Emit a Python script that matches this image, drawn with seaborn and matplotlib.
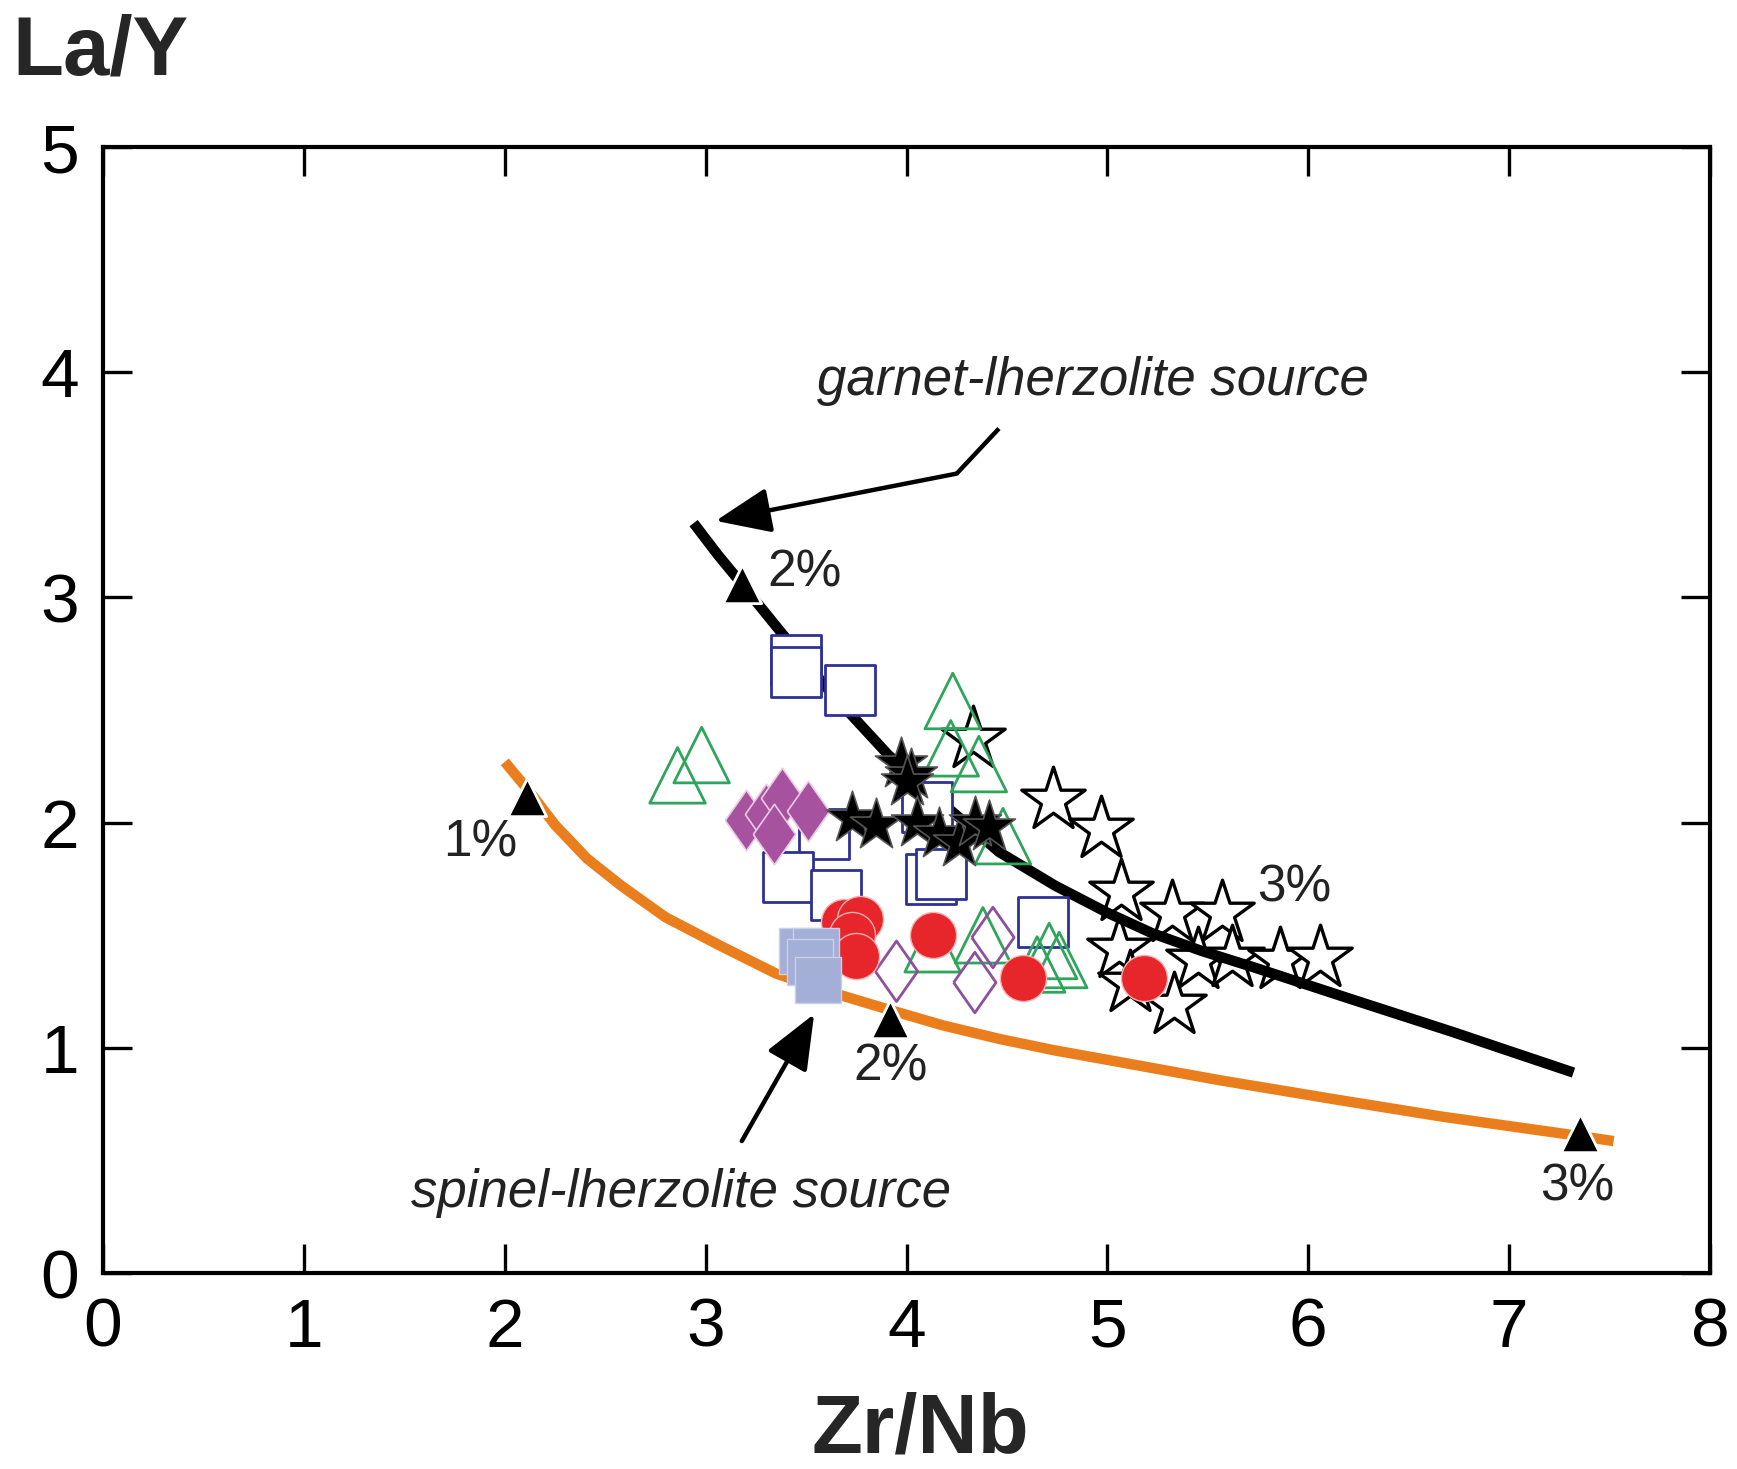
import matplotlib
matplotlib.use('Agg')
import matplotlib.pyplot as plt
import seaborn as sns

sns.set_theme(style='ticks')
plt.rcParams['font.family'] = ['Liberation Sans', 'DejaVu Sans']

# melting curves (Zr/Nb vs La/Y)
garnet_x = [2.94, 3.06, 3.18, 3.38, 3.62, 3.91, 4.20, 4.46, 4.74, 5.00, 5.22, 5.47,
            5.72, 6.20, 6.72, 7.32]
garnet_y = [3.33, 3.19, 3.06, 2.84, 2.58, 2.30, 2.07, 1.87, 1.72, 1.60, 1.51, 1.43,
            1.36, 1.22, 1.07, 0.89]
spinel_x = [2.00, 2.13, 2.25, 2.41, 2.58, 2.80, 3.08, 3.35, 3.63, 3.91, 4.18, 4.46,
            4.73, 5.01, 5.56, 6.12, 6.67, 7.22, 7.52]
spinel_y = [2.27, 2.13, 1.99, 1.84, 1.72, 1.58, 1.45, 1.33, 1.245, 1.17, 1.10, 1.04,
            0.99, 0.945, 0.856, 0.773, 0.694, 0.625, 0.586]

# degree-of-melting marks
melt_x = [3.18, 2.11, 3.92, 7.35]
melt_y = [3.06, 2.115, 1.13, 0.62]
melt_labels = ['2%', '1%', '2%', '3%', '3%']
melt_label_x = [3.49, 1.88, 3.92, 7.34, 5.93]
melt_label_y = [3.11, 1.91, 0.915, 0.38, 1.71]

# sample groups
blue_sq_x = [3.45, 3.45, 3.72, 4.10, 3.59, 3.41, 3.65, 4.12, 4.17, 4.68]
blue_sq_y = [2.72, 2.67, 2.59, 2.07, 1.95, 1.76, 1.68, 1.75, 1.77, 1.56]
green_tri_x = [2.86, 2.98, 4.23, 4.22, 4.36, 4.48, 4.13, 4.38, 4.65, 4.76, 4.71]
green_tri_y = [2.21, 2.30, 2.54, 2.33, 2.26, 1.94, 1.46, 1.50, 1.37, 1.39, 1.43]
black_star_x = [3.97, 4.02, 4.00, 3.73, 3.85, 4.05, 4.16, 4.26, 4.34, 4.41]
black_star_y = [2.26, 2.21, 2.18, 2.02, 1.99, 2.00, 1.95, 1.91, 2.00, 1.98]
open_star_x = [4.33, 4.73, 4.97, 5.07, 5.32, 5.57, 5.06, 5.45, 5.62, 5.86, 6.06, 5.11, 5.33]
open_star_y = [2.37, 2.10, 1.97, 1.69, 1.60, 1.60, 1.44, 1.39, 1.40, 1.39, 1.40, 1.29, 1.19]
red_x = [3.69, 3.77, 3.73, 3.75, 4.13, 4.58, 5.18]
red_y = [1.56, 1.57, 1.50, 1.41, 1.50, 1.31, 1.31]
purple_fill_x = [3.20, 3.30, 3.38, 3.34, 3.51]
purple_fill_y = [2.01, 2.04, 2.11, 1.95, 2.05]
purple_open_x = [3.95, 4.34, 4.43]
purple_open_y = [1.34, 1.29, 1.49]
lblue_x = [3.48, 3.55, 3.52, 3.56]
lblue_y = [1.43, 1.43, 1.38, 1.30]

# annotation arrows
garnet_arrow_x = [4.46, 4.25, 3.05]
garnet_arrow_y = [3.75, 3.55, 3.34]
spinel_arrow_x = [3.18, 3.54]
spinel_arrow_y = [0.586, 1.15]

diamond = [(-0.35, 0), (0, 0.5), (0.35, 0), (0, -0.5), (-0.35, 0)]

fig = plt.figure(figsize=(17.37, 14.69), dpi=100)
ax = fig.add_axes([0.0593, 0.1334, 0.9252, 0.7665])

sns.scatterplot(x=open_star_x, y=open_star_y, marker='*', s=2300, facecolor='white',
                edgecolor='black', linewidth=2.4, ax=ax, zorder=2)
sns.lineplot(x=garnet_x, y=garnet_y, sort=False, estimator=None, color='black', lw=7.5,
             ax=ax, zorder=3, solid_capstyle='butt', solid_joinstyle='round')
sns.lineplot(x=spinel_x, y=spinel_y, sort=False, estimator=None, color='#ea7d1c', lw=7.5,
             ax=ax, zorder=3, solid_capstyle='butt', solid_joinstyle='round')

sns.scatterplot(x=blue_sq_x, y=blue_sq_y, marker='s', s=1300, facecolor='white',
                edgecolor='#2e3192', linewidth=2, ax=ax, zorder=4)
sns.scatterplot(x=green_tri_x, y=green_tri_y, marker='^', s=1600, facecolor='none',
                edgecolor='#2ea55a', linewidth=2, ax=ax, zorder=5)
sns.scatterplot(x=purple_open_x, y=purple_open_y, marker=diamond, s=1900, facecolor='none',
                edgecolor='#8e4f9f', linewidth=2, ax=ax, zorder=5)
sns.scatterplot(x=purple_fill_x, y=purple_fill_y, marker=diamond, s=1900, color='#a6529f',
                edgecolor='#e9c9e4', linewidth=1.2, ax=ax, zorder=6)
sns.scatterplot(x=black_star_x, y=black_star_y, marker='*', s=1550, color='black',
                edgecolor='#555555', linewidth=1.2, ax=ax, zorder=6)
sns.scatterplot(x=red_x, y=red_y, marker='o', s=1100, color='#e6262a',
                edgecolor='#f6b0b0', linewidth=1, ax=ax, zorder=7)
sns.scatterplot(x=lblue_x, y=lblue_y, marker='s', s=1050, color='#a3afd6',
                edgecolor='#c9d0ea', linewidth=1, ax=ax, zorder=7)
sns.scatterplot(x=melt_x, y=melt_y, marker='^', s=760, color='black',
                edgecolor='white', linewidth=2, ax=ax, zorder=8)

for lbl, tx, ty in zip(melt_labels, melt_label_x, melt_label_y):
    ax.text(tx, ty, lbl, fontsize=37, ha='center', va='center', color='#222222', zorder=9)

# arrows and source labels
head = '-|>,head_length=0.85,head_width=0.35'
ax.plot(garnet_arrow_x[:2], garnet_arrow_y[:2], color='black', lw=3.2, zorder=9,
        solid_capstyle='butt')
ax.annotate('', xy=(garnet_arrow_x[2], garnet_arrow_y[2]),
            xytext=(garnet_arrow_x[1], garnet_arrow_y[1]),
            arrowprops=dict(arrowstyle=head, lw=3.2, color='black', mutation_scale=40,
                            shrinkA=0, shrinkB=0),
            zorder=9)
ax.annotate('', xy=(spinel_arrow_x[1], spinel_arrow_y[1]),
            xytext=(spinel_arrow_x[0], spinel_arrow_y[0]),
            arrowprops=dict(arrowstyle=head, lw=3.2, color='black', mutation_scale=40,
                            shrinkA=0, shrinkB=0),
            zorder=9)
ax.text(4.93, 3.96, 'garnet-lherzolite source', fontsize=38, style='italic',
        ha='center', va='center', color='#222222')
ax.text(2.88, 0.354, 'spinel-lherzolite source', fontsize=38, style='italic',
        ha='center', va='center', color='#222222')

ax.set_xlim(0, 8)
ax.set_ylim(0, 5)
ax.set_xticks(range(9))
ax.set_yticks(range(6))
ax.tick_params(direction='in', length=21, width=2.4, top=True, right=True,
               labelsize=50, colors='black')
ax.tick_params(axis='x', pad=17)
ax.tick_params(axis='y', pad=17)
for sp in ax.spines.values():
    sp.set_linewidth(3)
    sp.set_color('black')
ax.set_xlabel('')
ax.set_ylabel('')

fig.text(0.007, 0.949, 'La/Y', fontsize=60, fontweight='bold', ha='left', va='baseline')
fig.text(0.5296, 0.011, 'Zr/Nb', fontsize=60, fontweight='bold', ha='center', va='baseline')

fig.savefig('out.png', dpi=100)
